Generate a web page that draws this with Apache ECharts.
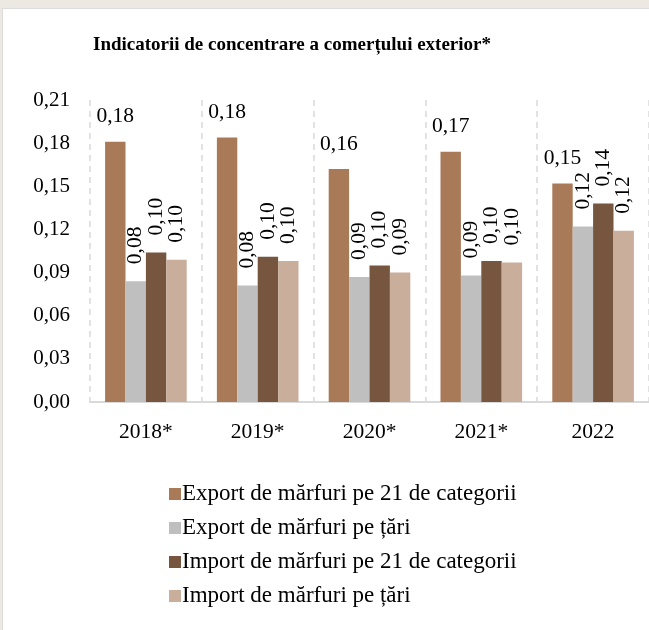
<!DOCTYPE html>
<html>
<head>
<meta charset="utf-8">
<script src="https://cdn.jsdelivr.net/npm/echarts@6/dist/echarts.min.js"></script>
<style>
  html, body { margin: 0; padding: 0; background: #fff; }
  #chart { width: 649px; height: 630px; }
</style>
</head>
<body>
<div id="chart"></div>
<script>
// data
var years = ['2018*', '2019*', '2020*', '2021*', '2022'];
var seriesNames = [
  'Export de mărfuri pe 21 de categorii',
  'Export de mărfuri pe țări',
  'Import de mărfuri pe 21 de categorii',
  'Import de mărfuri pe țări'
];
var exportCat = [0.181, 0.184, 0.162, 0.174, 0.152];
var exportTari = [0.084, 0.081, 0.087, 0.088, 0.122];
var importCat = [0.104, 0.101, 0.095, 0.098, 0.138];
var importTari = [0.099, 0.098, 0.090, 0.097, 0.119];
var yTicks = [0, 0.03, 0.06, 0.09, 0.12, 0.15, 0.18, 0.21];

var colors = ['#A87A58', '#BFBFBF', '#76563E', '#C9AE9C'];
var fontFam = '"Liberation Serif", "DejaVu Serif", serif';

var dom = document.getElementById('chart');
var myChart = echarts.init(dom, null, { renderer: 'canvas' });

function fmt(v) {
  return v.toFixed(2).replace('.', ',');
}

// horizontal label for the first series, rotated ones for the rest
var flatLabel = {
  show: true,
  position: 'top',
  distance: 14,
  color: '#000',
  fontSize: 21.5,
  fontFamily: fontFam,
  formatter: function (p) { return fmt(p.value); }
};
var upLabel = {
  show: true,
  position: 'top',
  rotate: 90,
  align: 'left',
  verticalAlign: 'middle',
  distance: 17,
  color: '#000',
  fontSize: 21.5,
  fontFamily: fontFam,
  formatter: function (p) { return fmt(p.value); }
};

var allData = [exportCat, exportTari, importCat, importTari];
var series = allData.map(function (d, i) {
  return {
    name: seriesNames[i],
    type: 'bar',
    data: d,
    barGap: '0%',
    barCategoryGap: '27%',
    itemStyle: { color: colors[i] },
    label: i === 0 ? flatLabel : upLabel
  };
});

var option = {
  backgroundColor: '#fff',
  animation: false,
  graphic: [
    { type: 'rect', shape: { x: 0, y: 0, width: 649, height: 8 }, style: { fill: '#ECE8E2' }, z: 100 },
    { type: 'rect', shape: { x: 0, y: 8, width: 649, height: 1 }, style: { fill: '#DCDCDC' }, z: 100 },
    { type: 'rect', shape: { x: 0, y: 0, width: 2, height: 630 }, style: { fill: '#ECE8E2' }, z: 100 },
    { type: 'rect', shape: { x: 2, y: 8, width: 1, height: 622 }, style: { fill: '#DCDCDC' }, z: 100 }
  ],
  title: {
    text: 'Indicatorii de concentrare a comerțului exterior*',
    left: 88,
    top: 31,
    textStyle: {
      fontFamily: fontFam,
      fontSize: 19,
      fontWeight: 'bold',
      color: '#000'
    }
  },
  legend: {
    orient: 'vertical',
    left: 164,
    top: 477,
    itemWidth: 12,
    itemHeight: 12,
    itemGap: 10,
    icon: 'rect',
    data: seriesNames,
    textStyle: {
      fontFamily: fontFam,
      fontSize: 23,
      lineHeight: 24,
      color: '#000',
      padding: [0, 0, 0, -4]
    }
  },
  grid: {
    left: 90,
    right: -1,
    top: 100,
    bottom: 228
  },
  xAxis: {
    type: 'category',
    data: years,
    axisTick: { show: false },
    axisLine: { lineStyle: { color: '#D9D9D9', width: 2 } },
    axisLabel: {
      color: '#000',
      fontSize: 21.5,
      fontFamily: fontFam,
      margin: 19
    },
    splitLine: {
      show: true,
      lineStyle: { color: '#D9D9D9', type: [6, 5], width: 1.5 }
    }
  },
  yAxis: {
    type: 'value',
    min: yTicks[0],
    max: yTicks[yTicks.length - 1],
    interval: 0.03,
    axisLine: { show: false },
    axisTick: { show: false },
    splitLine: { show: false },
    axisLabel: {
      color: '#000',
      fontSize: 21,
      fontFamily: fontFam,
      margin: 20,
      formatter: function (v) { return fmt(v); }
    }
  },
  series: series
};

myChart.setOption(option);
window.addEventListener('resize', myChart.resize);
</script>
</body>
</html>
